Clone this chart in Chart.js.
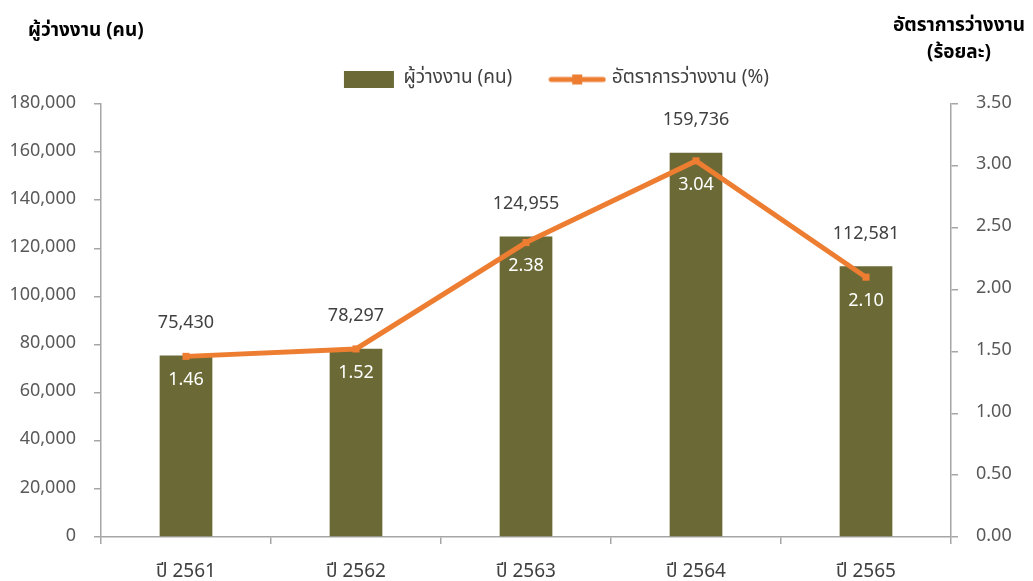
<!DOCTYPE html>
<html>
<head>
<meta charset="utf-8">
<script src="https://cdn.jsdelivr.net/npm/chart.js@4.4.0/dist/chart.umd.min.js"></script>
<style>
  html, body { margin: 0; padding: 0; background: #fff; }
  #wrap { width: 1033px; height: 581px; position: relative; }
</style>
</head>
<body>
<div id="wrap"><canvas id="chart"></canvas></div>
<script>
// data
var years = ['ปี 2561', 'ปี 2562', 'ปี 2563', 'ปี 2564', 'ปี 2565'];
var unemployed = [75430, 78297, 124955, 159736, 112581];
var unemploymentRate = [1.46, 1.52, 2.38, 3.04, 2.10];
var leftAxisMax = 180000, leftAxisStep = 20000;
var rightAxisMax = 3.5, rightAxisStep = 0.5;

var barLabel = 'ผู้ว่างงาน (คน)';
var lineLabel = 'อัตราการว่างงาน (%)';
var leftTitle = 'ผู้ว่างงาน (คน)';
var rightTitle = ['อัตราการว่างงาน', '(ร้อยละ)'];

var OLIVE = '#6b6a36';
var ORANGE = '#ed7d31';
var AXIS = '#a6a6a6';
var FONT = "'Noto Sans Thai', 'Noto Sans', sans-serif";

// little line+square icon for the legend
function lineIcon() {
  var c = document.createElement('canvas');
  c.width = 58; c.height = 14;
  var g = c.getContext('2d');
  g.strokeStyle = ORANGE;
  g.lineWidth = 5;
  g.lineCap = 'round';
  g.beginPath(); g.moveTo(3, 7); g.lineTo(55, 7); g.stroke();
  g.fillStyle = ORANGE;
  g.fillRect(24, 2, 10, 10);
  return c;
}

// value labels + axis titles
var labelsPlugin = {
  id: 'labels',
  afterDatasetsDraw: function(chart) {
    var ctx = chart.ctx;
    ctx.save();
    ctx.textAlign = 'center';
    ctx.textBaseline = 'middle';
    ctx.font = '18px ' + FONT;
    ctx.fillStyle = '#404040';
    chart.getDatasetMeta(0).data.forEach(function(bar, i) {
      ctx.fillText(unemployed[i].toLocaleString('en-US'), bar.x, bar.y - 31);
    });
    ctx.fillStyle = '#ffffff';
    chart.getDatasetMeta(1).data.forEach(function(pt, i) {
      ctx.fillText(unemploymentRate[i].toFixed(2), pt.x, pt.y + 25);
    });
    ctx.restore();
  },
  afterDraw: function(chart) {
    var ctx = chart.ctx;
    ctx.save();
    ctx.fillStyle = '#000000';
    ctx.textBaseline = 'middle';
    ctx.font = 'bold 19px ' + FONT;
    ctx.textAlign = 'left';
    ctx.fillText(leftTitle, 28, 32);
    ctx.textAlign = 'center';
    ctx.fillText(rightTitle[0], 959, 27);
    ctx.fillText(rightTitle[1], 959, 54);
    ctx.restore();
  }
};

var ctx = document.getElementById('chart');
new Chart(ctx, {
  data: {
    labels: years,
    datasets: [{
      type: 'bar',
      label: barLabel,
      data: unemployed,
      backgroundColor: OLIVE,
      yAxisID: 'y',
      barPercentage: 0.31,
      categoryPercentage: 1,
      order: 1
    }, {
      type: 'line',
      label: lineLabel,
      data: unemploymentRate,
      borderColor: ORANGE,
      backgroundColor: ORANGE,
      borderWidth: 5,
      pointStyle: 'rect',
      pointRadius: 5,
      pointBackgroundColor: ORANGE,
      pointBorderWidth: 0,
      tension: 0,
      yAxisID: 'y1',
      order: 0
    }]
  },
  options: {
    responsive: true,
    maintainAspectRatio: false,
    animation: false,
    // negative right padding just shifts the legend centre to the right
    layout: { padding: { left: 0, right: -80, top: 30, bottom: 0 } },
    plugins: {
      tooltip: { enabled: false },
      // empty subtitle used only as a small gap under the legend
      subtitle: {
        display: true,
        text: '',
        position: 'top',
        weight: 500,
        font: { size: 4, lineHeight: 1 },
        padding: { top: 0, bottom: 1 }
      },
      legend: {
        position: 'top',
        labels: {
          usePointStyle: true,
          pointStyleWidth: 50,
          boxHeight: 17,
          padding: 40,
          color: '#404040',
          font: { family: FONT, size: 19 },
          generateLabels: function(chart) {
            var items = Chart.defaults.plugins.legend.labels.generateLabels(chart);
            items.sort(function(a, b) { return a.datasetIndex - b.datasetIndex; });
            items.forEach(function(it) {
              if (it.datasetIndex === 0) { it.pointStyle = 'rect'; it.lineWidth = 0; }
              else { it.pointStyle = lineIcon(); it.lineWidth = 0; }
            });
            return items;
          }
        }
      }
    },
    scales: {
      x: {
        afterFit: function(s) { s.height = 44; },
        grid: { offset: true, drawOnChartArea: false, drawTicks: true, tickLength: 7, color: AXIS, lineWidth: 1.5 },
        border: { color: AXIS, width: 1.5 },
        ticks: { color: '#404040', padding: 18, font: { family: FONT, size: 19 } }
      },
      y: {
        position: 'left',
        min: 0, max: leftAxisMax,
        afterFit: function(s) { s.width = 101; },
        grid: { drawOnChartArea: false, drawTicks: true, tickLength: 7, color: AXIS, lineWidth: 1.5 },
        border: { color: AXIS, width: 1.5 },
        ticks: {
          stepSize: leftAxisStep, padding: 18, color: '#595959',
          font: { family: FONT, size: 18 },
          callback: function(v) { return v.toLocaleString('en-US'); }
        }
      },
      y1: {
        position: 'right',
        min: 0, max: rightAxisMax,
        afterFit: function(s) { s.width = 162; },
        grid: { drawOnChartArea: false, drawTicks: true, tickLength: 7, color: AXIS, lineWidth: 1.5 },
        border: { color: AXIS, width: 1.5 },
        ticks: {
          stepSize: rightAxisStep, padding: 18, color: '#595959',
          font: { family: FONT, size: 18 },
          callback: function(v) { return v.toFixed(2); }
        }
      }
    }
  },
  plugins: [labelsPlugin]
});
</script>
</body>
</html>
